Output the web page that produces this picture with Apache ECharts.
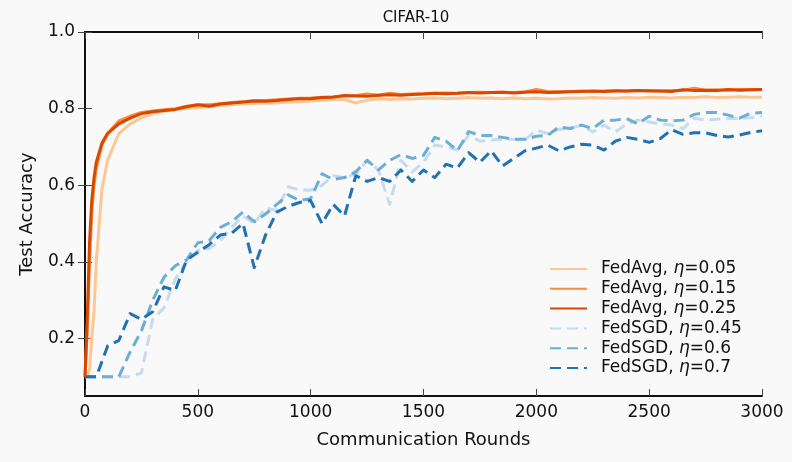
<!DOCTYPE html>
<html>
<head>
<meta charset="utf-8">
<script src="https://cdn.jsdelivr.net/npm/echarts@6/dist/echarts.min.js"></script>
<style>
html,body{margin:0;padding:0;background:#f9f9f9;}
#c{width:792px;height:462px;}
</style>
</head>
<body>
<div id="c"></div>
<script>
// ---- data ----
const title = 'CIFAR-10';
const xName = 'Communication Rounds';
const yName = 'Test Accuracy';
const xTicks = [0, 500, 1000, 1500, 2000, 2500, 3000];
const yTicks = [0.2, 0.4, 0.6, 0.8, 1.0];

const avgRounds = [0,10,20,30,40,50,75,100,150,200,250,300,350,400,450,500,550,600,650,700,750,800,850,900,950,1000,1050,1100,1150,1200,1250,1300,1350,1400,1450,1500,1550,1600,1650,1700,1750,1800,1850,1900,1950,2000,2050,2100,2150,2200,2250,2300,2350,2400,2450,2500,2550,2600,2650,2700,2750,2800,2850,2900,2950,3000];

const fedAvg005 = [0.10,0.10,0.12,0.20,0.27,0.40,0.59,0.665,0.735,0.76,0.776,0.787,0.793,0.797,0.80,0.803,0.805,0.808,0.81,0.812,0.814,0.815,0.815,0.817,0.818,0.82,0.822,0.825,0.823,0.815,0.822,0.826,0.824,0.826,0.825,0.827,0.828,0.826,0.827,0.829,0.827,0.828,0.826,0.828,0.826,0.827,0.825,0.826,0.828,0.827,0.829,0.828,0.827,0.829,0.828,0.83,0.829,0.828,0.83,0.829,0.831,0.829,0.83,0.831,0.83,0.83];

const fedAvg015 = [0.10,0.22,0.40,0.53,0.60,0.645,0.705,0.735,0.768,0.78,0.79,0.794,0.797,0.80,0.806,0.81,0.81,0.813,0.816,0.818,0.821,0.821,0.823,0.825,0.827,0.828,0.83,0.831,0.833,0.834,0.838,0.835,0.84,0.837,0.838,0.839,0.84,0.841,0.84,0.842,0.843,0.842,0.843,0.842,0.844,0.85,0.845,0.844,0.845,0.846,0.845,0.846,0.847,0.846,0.847,0.847,0.846,0.847,0.848,0.853,0.848,0.849,0.848,0.85,0.849,0.85];

const fedAvg025 = [0.10,0.25,0.45,0.56,0.62,0.66,0.71,0.735,0.76,0.775,0.787,0.792,0.795,0.798,0.805,0.81,0.806,0.812,0.815,0.817,0.82,0.819,0.821,0.824,0.826,0.826,0.829,0.83,0.834,0.833,0.832,0.835,0.836,0.835,0.837,0.838,0.84,0.839,0.84,0.842,0.841,0.842,0.843,0.841,0.843,0.844,0.842,0.843,0.844,0.845,0.846,0.845,0.846,0.846,0.847,0.846,0.846,0.845,0.849,0.847,0.848,0.847,0.85,0.848,0.849,0.85];

const sgdRounds = [0,50,100,150,200,250,300,350,400,450,500,550,600,650,700,750,800,850,900,950,1000,1050,1100,1150,1200,1250,1300,1350,1400,1450,1500,1550,1600,1650,1700,1750,1800,1850,1900,1950,2000,2050,2100,2150,2200,2250,2300,2350,2400,2450,2500,2550,2600,2650,2700,2750,2800,2850,2900,2950,3000];

const fedSgd045 = [0.10,0.10,0.10,0.10,0.10,0.11,0.25,0.28,0.355,0.40,0.43,0.435,0.455,0.49,0.52,0.50,0.54,0.535,0.596,0.588,0.587,0.60,0.625,0.62,0.63,0.665,0.64,0.55,0.665,0.635,0.66,0.705,0.70,0.692,0.73,0.715,0.718,0.72,0.72,0.718,0.744,0.735,0.746,0.748,0.757,0.739,0.757,0.739,0.76,0.77,0.765,0.76,0.757,0.748,0.775,0.77,0.772,0.774,0.774,0.776,0.78];

const fedSgd06 = [0.10,0.10,0.10,0.10,0.165,0.22,0.30,0.36,0.39,0.405,0.45,0.455,0.49,0.505,0.53,0.505,0.525,0.55,0.575,0.56,0.565,0.63,0.615,0.62,0.635,0.665,0.64,0.665,0.68,0.67,0.678,0.725,0.715,0.69,0.74,0.73,0.73,0.725,0.72,0.72,0.728,0.73,0.752,0.748,0.757,0.748,0.77,0.77,0.774,0.76,0.78,0.77,0.768,0.77,0.785,0.79,0.79,0.783,0.775,0.788,0.79];

const fedSgd07 = [0.10,0.10,0.18,0.195,0.265,0.25,0.27,0.335,0.325,0.405,0.425,0.445,0.47,0.475,0.50,0.385,0.47,0.53,0.545,0.555,0.56,0.50,0.55,0.52,0.625,0.61,0.62,0.61,0.64,0.61,0.64,0.62,0.655,0.645,0.685,0.66,0.69,0.65,0.67,0.69,0.697,0.705,0.69,0.70,0.707,0.705,0.692,0.715,0.725,0.72,0.712,0.722,0.745,0.733,0.737,0.737,0.73,0.726,0.731,0.738,0.742];

const seriesNames = ['FedAvg, η=0.05','FedAvg, η=0.15','FedAvg, η=0.25','FedSGD, η=0.45','FedSGD, η=0.6','FedSGD, η=0.7'];
const seriesColors = ['#fdc692','#fd8d3c','#d94801','#c6dbef','#6baed6','#2171b5'];

// ---- build ----
const FONT = 'DejaVu Sans';
const pair = (xs, ys) => xs.map((x, i) => [x, ys[i]]);
const allData = [
  pair(avgRounds, fedAvg005), pair(avgRounds, fedAvg015), pair(avgRounds, fedAvg025),
  pair(sgdRounds, fedSgd045), pair(sgdRounds, fedSgd06), pair(sgdRounds, fedSgd07)
];

const series = allData.map((d, i) => ({
  name: seriesNames[i],
  type: 'line',
  data: d,
  symbol: 'none',
  showSymbol: false,
  xAxisIndex: 0,
  yAxisIndex: 0,
  lineStyle: { color: seriesColors[i], width: 3, type: i < 3 ? 'solid' : [11, 6], cap: 'butt', join: 'round' },
  itemStyle: { color: seriesColors[i] },
  emphasis: { disabled: true },
  animation: false
}));

const axisLine = { show: true, lineStyle: { color: '#111', width: 2 } };
const tick = { show: true, inside: true, length: 7, lineStyle: { color: '#444', width: 1 } };
const txt = { fontFamily: FONT, color: '#111' };

const chart = echarts.init(document.getElementById('c'), null, { renderer: 'canvas' });
chart.setOption({
  backgroundColor: '#f9f9f9',
  animation: false,
  title: {
    text: title, left: 411, top: 6, textAlign: 'center',
    textStyle: Object.assign({ fontSize: 15, fontWeight: 'normal' }, txt)
  },
  grid: { left: 85, right: 30, top: 32, bottom: 66, containLabel: false },
  legend: {
    show: true,
    orient: 'vertical',
    left: 544, top: 255,
    itemWidth: 37, itemHeight: 14, itemGap: 1.8,
    data: seriesNames,
    itemStyle: { opacity: 0 },
    lineStyle: { opacity: 1 },
    formatter: n => '{p|}' + n.replace('η', '{e|η}'),
    textStyle: Object.assign({
      fontSize: 17, lineHeight: 18,
      rich: {
        p: { width: 9 },
        e: Object.assign({ fontStyle: 'italic', fontSize: 17, lineHeight: 18 }, txt)
      }
    }, txt),
    selectedMode: false
  },
  xAxis: [
    {
      type: 'value', min: 0, max: 3000, interval: 500, position: 'bottom',
      axisLine, axisTick: tick, splitLine: { show: false },
      axisLabel: Object.assign({ fontSize: 17, margin: 8, formatter: v => String(v) }, txt),
      name: xName, nameLocation: 'middle', nameGap: 35,
      nameTextStyle: Object.assign({ fontSize: 18 }, txt)
    },
    {
      type: 'value', min: 0, max: 3000, interval: 500, position: 'top',
      axisLine, axisTick: tick, splitLine: { show: false }, axisLabel: { show: false }
    }
  ],
  yAxis: [
    {
      type: 'value', min: 0.05, max: 1.0, position: 'left',
      axisLine, splitLine: { show: false },
      axisTick: Object.assign({}, tick, { customValues: yTicks }),
      axisLabel: Object.assign({ fontSize: 17, margin: 10, customValues: yTicks, formatter: v => v.toFixed(1) }, txt),
      name: yName, nameLocation: 'middle', nameGap: 49,
      nameTextStyle: Object.assign({ fontSize: 18 }, txt)
    },
    {
      type: 'value', min: 0.05, max: 1.0, position: 'right',
      axisLine, splitLine: { show: false },
      axisTick: Object.assign({}, tick, { customValues: yTicks }),
      axisLabel: { show: false }
    }
  ],
  series
});
</script>
</body>
</html>
